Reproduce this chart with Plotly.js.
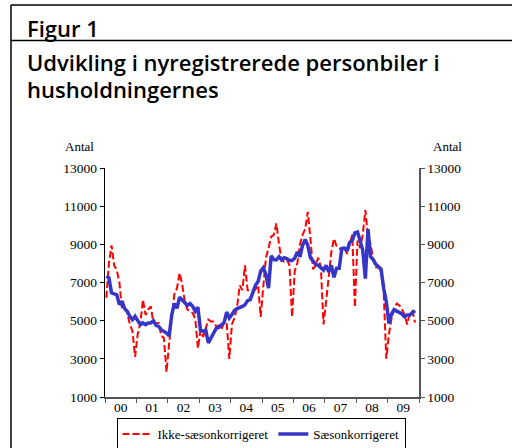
<!DOCTYPE html>
<html>
<head>
<meta charset="utf-8">
<script src="https://cdn.plot.ly/plotly-3.0.1.min.js"></script>
<style>html,body{margin:0;padding:0;background:#fff;}#chart{width:512px;height:448px;}</style>
</head>
<body>
<div id="chart"></div>
<script>
// Monthly values, Jan 2000 .. Nov 2009
const ikkeSaeson = [
 6200,8000,8950,7900,7650,7000,5600,5650,5400,4800,4450,3100,
 4300,4850,6100,5300,5580,5750,4900,4850,4880,4200,4100,2300,
 3800,5300,6400,6700,7500,6900,6000,5580,5480,5400,5100,3550,
 4500,4150,4600,5050,4950,4950,4700,4750,4550,4900,4900,3000,
 4800,5150,5750,6850,6600,7900,6600,6600,6550,6650,6850,5200,
 6800,8300,8800,9400,9500,10100,9000,8150,8100,8200,7900,5200,
 7600,8000,9000,9500,9800,10700,9300,7700,7900,8300,7800,4800,
 6000,7500,8600,9300,8900,8800,8700,8900,8500,9000,9500,5700,
 9200,8800,9500,10800,9400,9000,8200,7800,7800,7600,6500,3000,
 4300,5100,5600,5900,5800,5600,5300,4800,5400,5500,4900
];
const saeson = [
 7330,7250,6460,6400,6350,5840,6020,5630,5490,5230,5050,5230,
 4965,4790,4880,4790,4880,4880,5000,4750,4700,4530,4440,4350,
 4200,5300,5900,5650,6230,6100,5950,5800,5900,5750,5490,5700,
 4500,4440,4500,3830,4090,4350,4600,4650,4790,4900,5450,5140,
 5320,5550,5630,5670,5750,5840,6050,6100,6500,6850,7050,7600,
 7770,7420,6700,8400,8200,8180,8350,8180,8300,8250,8150,8150,
 8270,8600,8350,8950,9250,8950,8300,8100,7950,7900,7750,7650,
 7900,7560,7900,7270,7750,7750,8780,8800,8650,9100,9200,9600,
 9650,9150,8700,7200,9800,8350,8200,7950,7800,7700,6700,6000,
 4850,5350,5580,5500,5450,5350,5200,5300,5300,5400,5530
];
const yearLabels = ['00','01','02','03','04','05','06','07','08','09'];
const yTicks = [1000,3000,5000,7000,9000,11000,13000];
const yTickText = ['1000','3000','5000','7000','9000','11000','13000'];
const seriesNames = ['Ikke-sæsonkorrigeret','Sæsonkorrigeret'];

const monthIdx = ikkeSaeson.map((_, i) => i);
const yearStarts = yearLabels.map((_, k) => k * 12 - 0.5).concat([yearLabels.length * 12 - 0.5]);
const yearMids = yearLabels.map((_, k) => k * 12 + 5.5);

const serif = 'Liberation Serif, Times New Roman, serif';
const sans = 'Open Sans, Noto Sans, sans-serif';

// pixel helpers for paper coords (plot area: x 105..419, y 168..397)
const PX = p => (p - 105) / 314;
const PY = p => (397 - p) / 229;

const traces = [
  {x: monthIdx, y: ikkeSaeson, name: seriesNames[0], type: 'scatter', mode: 'lines',
   xaxis: 'x', yaxis: 'y',
   line: {color: '#FF0000', width: 2, dash: '7px,3px'}},
  {x: monthIdx, y: saeson, name: seriesNames[1], type: 'scatter', mode: 'lines',
   xaxis: 'x2', yaxis: 'y2',
   line: {color: '#3535C8', width: 3.5}}
];

const layout = {
  width: 512, height: 448,
  margin: {l: 105, r: 93, t: 168, b: 51},
  paper_bgcolor: '#fff', plot_bgcolor: 'rgba(0,0,0,0)',
  showlegend: true,
  legend: {orientation: 'h', xref: 'container', yref: 'container',
    x: 261 / 512, xanchor: 'center', y: (448 - 418) / 448, yanchor: 'top',
    bordercolor: '#000', borderwidth: 1, font: {family: serif, size: 13, color: '#000'},
    tracegroupgap: 0, itemwidth: 30},
  xaxis: {range: [-0.5, 119.5], tickmode: 'array', tickvals: yearStarts,
    showticklabels: false, ticks: 'outside', ticklen: 4, tickcolor: '#555',
    showline: true, linecolor: '#555', linewidth: 1.5, showgrid: false, zeroline: false},
  xaxis2: {overlaying: 'x', range: [-0.5, 119.5], tickmode: 'array', tickvals: yearMids,
    ticktext: yearLabels, ticks: '', showline: false, showgrid: false, zeroline: false,
    side: 'bottom', anchor: 'y', tickfont: {family: serif, size: 13.5, color: '#000'}},
  yaxis: {range: [1000, 13000], tickmode: 'array', tickvals: yTicks, ticktext: yTickText,
    ticks: 'outside', ticklen: 4, tickcolor: '#000', showline: true, linecolor: '#000',
    linewidth: 1.3, showgrid: false, zeroline: false,
    tickfont: {family: serif, size: 13.5, color: '#000'}},
  yaxis2: {overlaying: 'y', side: 'right', anchor: 'x', range: [1000, 13000], tickmode: 'array',
    tickvals: yTicks, ticktext: yTickText, ticks: 'outside', ticklen: 4, tickcolor: '#555', showline: true,
    linecolor: '#555', linewidth: 1.5, showgrid: false, zeroline: false,
    tickfont: {family: serif, size: 13.5, color: '#000'}},
  shapes: [
    {type: 'line', xref: 'paper', yref: 'paper', x0: PX(11), x1: PX(512), y0: PY(5), y1: PY(5), line: {color: '#000', width: 1.5}},
    {type: 'line', xref: 'paper', yref: 'paper', x0: PX(11), x1: PX(512), y0: PY(40.5), y1: PY(40.5), line: {color: '#000', width: 1.5}},
    {type: 'line', xref: 'paper', yref: 'paper', x0: PX(11), x1: PX(11), y0: PY(5), y1: PY(448), line: {color: '#000', width: 1.5}}
  ],
  annotations: [
    {text: 'Figur 1', xref: 'paper', yref: 'paper', x: PX(25), y: PY(28), xanchor: 'left', yanchor: 'middle',
     showarrow: false, font: {family: sans, size: 22, weight: 600, color: '#000'}},
    {text: 'Udvikling i nyregistrerede personbiler i', xref: 'paper', yref: 'paper', x: PX(25), y: PY(62), xanchor: 'left', yanchor: 'middle',
     showarrow: false, font: {family: sans, size: 22, weight: 600, color: '#000'}},
    {text: 'husholdningernes', xref: 'paper', yref: 'paper', x: PX(25), y: PY(89), xanchor: 'left', yanchor: 'middle',
     showarrow: false, font: {family: sans, size: 22, weight: 600, color: '#000'}},
    {text: 'Antal', xref: 'paper', yref: 'paper', x: PX(79), y: PY(146), xanchor: 'center', yanchor: 'middle',
     showarrow: false, font: {family: serif, size: 13, color: '#000'}},
    {text: 'Antal', xref: 'paper', yref: 'paper', x: PX(447), y: PY(146), xanchor: 'center', yanchor: 'middle',
     showarrow: false, font: {family: serif, size: 13, color: '#000'}}
  ]
};

Plotly.newPlot('chart', traces, layout, {displayModeBar: false, staticPlot: true});
</script>
</body>
</html>
